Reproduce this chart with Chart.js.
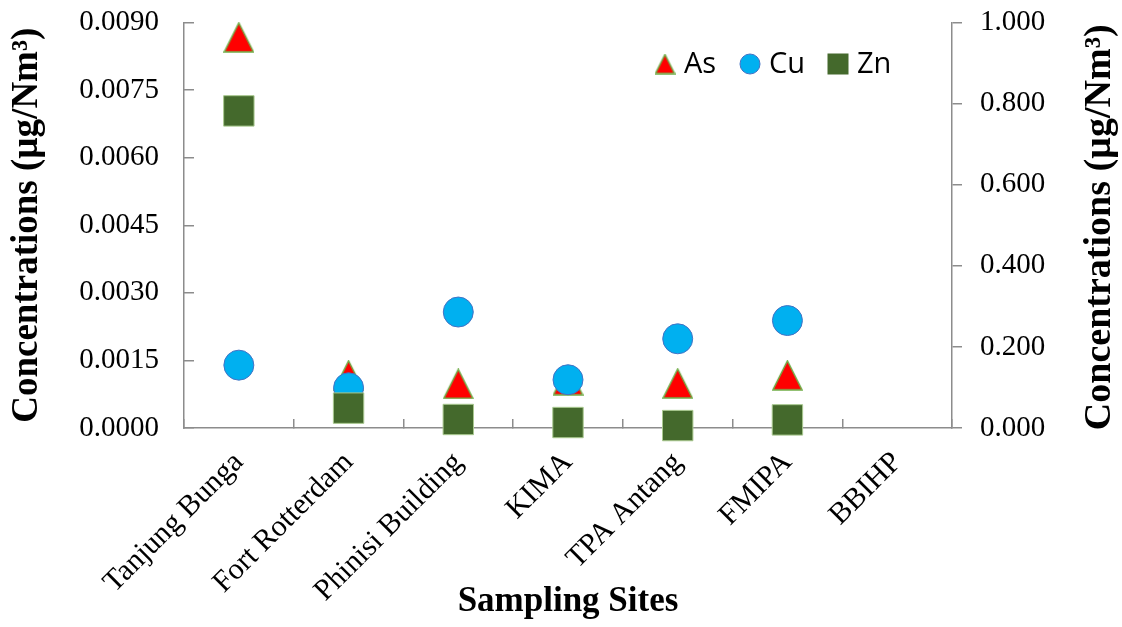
<!DOCTYPE html>
<html>
<head>
<meta charset="utf-8">
<script src="https://cdn.jsdelivr.net/npm/chart.js@4.4.1/dist/chart.umd.min.js"></script>
<style>
  html, body { margin: 0; padding: 0; background: #fff; }
  #box { width: 1122px; height: 627px; }
</style>
</head>
<body>
<div id="box"><canvas id="grafico"></canvas></div>
<script>
// dados
const locais = ["Tanjung Bunga", "Fort Rotterdam", "Phinisi Building", "KIMA", "TPA Antang", "FMIPA", "BBIHP"];
const valoresAs = [0.00867, 0.00117, 0.00098, 0.00106, 0.00099, 0.00117, null]; // eixo esquerdo
const valoresCu = [0.155, 0.099, 0.286, 0.119, 0.220, 0.265, null];             // eixo direito
const valoresZn = [0.782, 0.049, 0.021, 0.0135, 0.006, 0.020, null];            // eixo direito
const nomesSeries = ["As", "Cu", "Zn"];
const tituloEixoY = "Concentrations (µg/Nm³)";

const serif = "'Liberation Serif', 'Times New Roman', serif";
const cinza = "#8c8c8c";

// triângulo centrado na caixa (como no Excel)
function criarTriangulo(tam) {
  var c = document.createElement("canvas");
  c.width = tam; c.height = tam;
  var ctx = c.getContext("2d");
  ctx.beginPath();
  ctx.moveTo(tam / 2, 1);
  ctx.lineTo(tam - 1, tam - 1);
  ctx.lineTo(1, tam - 1);
  ctx.closePath();
  ctx.fillStyle = "#ff0000";
  ctx.fill();
  ctx.strokeStyle = "#70ad47";
  ctx.lineWidth = 1.5;
  ctx.stroke();
  return c;
}

const trianguloGrande = criarTriangulo(31);
const trianguloLegenda = criarTriangulo(21);

// legenda dentro da área do gráfico + título do eixo direito (lido de baixo p/ cima)
const extras = {
  id: "extras",
  afterDraw(chart) {
    var ctx = chart.ctx;
    var posicoes = [665, 750, 838];
    var y = 64;
    ctx.save();
    ctx.font = "29px 'Open Sans', sans-serif";
    ctx.textBaseline = "middle";
    chart.data.datasets.forEach((ds, i) => {
      var x = posicoes[i];
      if (i === 0) {
        ctx.drawImage(trianguloLegenda, x - 10.5, y - 10.5);
      } else if (i === 1) {
        ctx.beginPath();
        ctx.arc(x, y, 10, 0, Math.PI * 2);
        ctx.fillStyle = ds.backgroundColor;
        ctx.fill();
        ctx.strokeStyle = ds.borderColor;
        ctx.lineWidth = 1;
        ctx.stroke();
      } else {
        ctx.fillStyle = ds.backgroundColor;
        ctx.fillRect(x - 10.5, y - 10.5, 21, 21);
      }
      ctx.fillStyle = "#000";
      ctx.fillText(ds.label, x + 19, y + 1);
    });

    var area = chart.chartArea;
    ctx.translate(1100, (area.top + area.bottom) / 2 + 2);
    ctx.rotate(-Math.PI / 2);
    ctx.textAlign = "center";
    ctx.font = "bold 38px " + serif;
    ctx.fillText(tituloEixoY, 0, 0);
    ctx.restore();
  },
};

// largura fixa dos eixos verticais, sem folga extra em cima/baixo
function fixarEixo(largura) {
  return (s) => {
    s.width = largura;
    s.paddingTop = 0;
    s.paddingBottom = 0;
  };
}

new Chart(document.getElementById("grafico"), {
  type: "line",
  data: {
    labels: locais,
    datasets: [
      {
        label: nomesSeries[0],
        data: valoresAs,
        yAxisID: "y",
        showLine: false,
        clip: false,
        pointStyle: trianguloGrande,
        backgroundColor: "#ff0000",
        borderColor: "#70ad47",
        order: 3,
      },
      {
        label: nomesSeries[1],
        data: valoresCu,
        yAxisID: "y1",
        showLine: false,
        clip: false,
        pointStyle: "circle",
        pointRadius: 15,
        pointBorderWidth: 1,
        backgroundColor: "#00b0f0",
        borderColor: "#4472c4",
        order: 2,
      },
      {
        label: nomesSeries[2],
        data: valoresZn,
        yAxisID: "y1",
        showLine: false,
        clip: false,
        pointStyle: "rect",
        pointRadius: 21.5,
        pointBorderWidth: 1,
        backgroundColor: "#44692c",
        borderColor: "#a9c98f",
        order: 1,
      },
    ],
  },
  options: {
    responsive: true,
    maintainAspectRatio: false,
    animation: false,
    layout: {
      padding: { top: 22, left: 0, right: 0, bottom: 0 },
    },
    plugins: {
      legend: { display: false },
      tooltip: { enabled: false },
    },
    scales: {
      x: {
        offset: true,
        grid: {
          display: true,
          drawOnChartArea: false,
          offset: true,
          tickLength: -9,
          color: cinza,
          lineWidth: 1.5,
        },
        border: { color: cinza, width: 1.5 },
        ticks: {
          color: "#000",
          font: { family: serif, size: 30 },
          maxRotation: 45,
          minRotation: 45,
          padding: 26,
        },
        title: {
          display: true,
          text: "Sampling Sites",
          color: "#000",
          font: { family: serif, size: 35, weight: "bold" },
          padding: { top: 0, bottom: 4 },
        },
        afterFit: (s) => { s.height = 199; },
      },
      y: {
        position: "left",
        min: 0,
        max: 0.009,
        grid: {
          drawOnChartArea: false,
          tickLength: -10,
          color: cinza,
          lineWidth: 1.5,
        },
        border: { color: cinza, width: 1.5 },
        ticks: {
          stepSize: 0.0015,
          color: "#000",
          font: { family: serif, size: 29 },
          padding: 35,
          callback: (v) => v.toFixed(4),
        },
        title: {
          display: true,
          text: tituloEixoY,
          color: "#000",
          font: { family: serif, size: 37, weight: "bold" },
          padding: { top: 5, bottom: 0 },
        },
        afterFit: fixarEixo(184),
      },
      y1: {
        position: "right",
        min: 0,
        max: 1,
        grid: {
          drawOnChartArea: false,
          tickLength: 10,
          color: cinza,
          lineWidth: 1.5,
        },
        border: { color: cinza, width: 1.5 },
        ticks: {
          stepSize: 0.2,
          color: "#000",
          font: { family: serif, size: 29 },
          padding: 18,
          callback: (v) => v.toFixed(3),
        },
        afterFit: fixarEixo(170),
      },
    },
  },
  plugins: [extras],
});
</script>
</body>
</html>
